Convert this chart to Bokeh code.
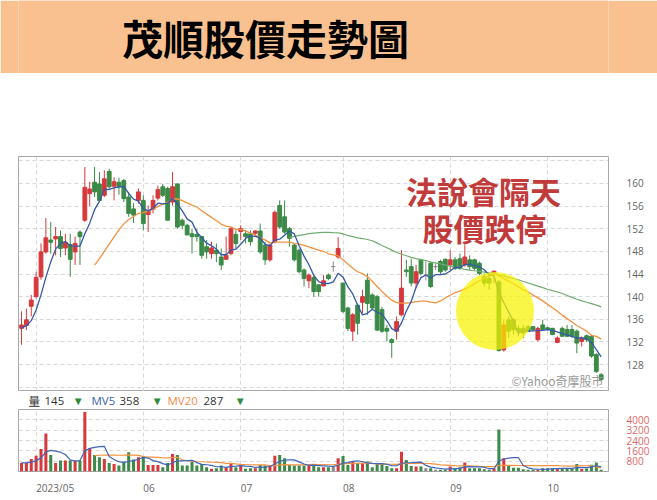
import pandas as pd
from bokeh.plotting import figure
from bokeh.layouts import column
from bokeh.models import Range1d, FixedTicker, Label, ColumnDataSource
from bokeh.embed import file_html
from bokeh.resources import INLINE

# ---------------- data ----------------
opens = [134.4, 134.9, 138.3, 140.0, 143.5, 147.9, 150.0, 150.2, 150.6, 148.6,
         149.2, 147.9, 151.4, 153.5, 158.2, 160.2, 159.9, 157.9, 162.1, 159.5,
         160.2, 160.5, 157.6, 155.5, 157.0, 157.0, 154.5, 155.4, 157.4, 159.4,
         159.1, 156.7, 159.9, 153.5, 152.6, 151.1, 151.0, 150.6, 148.8, 147.6,
         148.2, 147.0, 146.6, 147.6, 151.0, 151.5, 151.1, 151.1, 151.2, 151.6,
         149.1, 146.5, 149.7, 156.1, 154.1, 152.0, 149.1, 148.2, 144.7, 142.8,
         143.4, 142.1, 141.9, 143.8, 145.3, 147.0, 142.4, 138.0, 133.9, 138.5,
         139.0, 142.9, 140.3, 140.0, 137.7, 134.4, 132.4, 133.9, 136.8, 144.7,
         145.3, 142.4, 146.5, 143.8, 145.9, 145.3, 146.2, 146.6, 145.6, 146.5,
         146.7, 145.6, 146.5, 146.5, 145.9, 143.5, 143.2, 144.1, 142.6, 130.6,
         135.9, 135.9, 134.4, 134.4, 134.7, 134.7, 132.4, 135.0, 134.5, 134.4,
         131.9, 134.4, 134.2, 134.2, 133.9, 132.1, 133.1, 133.0, 129.8, 126.2]
highs = [137.4, 137.9, 140.3, 144.4, 149.4, 153.9, 153.2, 152.3, 151.7, 151.1,
         151.1, 150.6, 151.7, 162.9, 160.3, 162.9, 162.0, 162.3, 162.6, 161.1,
         161.0, 160.8, 158.5, 156.5, 159.1, 157.9, 156.1, 157.9, 159.6, 159.9,
         159.4, 162.0, 160.0, 153.8, 152.9, 152.0, 152.0, 150.6, 150.0, 149.7,
         149.4, 148.5, 150.6, 152.3, 151.7, 152.6, 151.7, 151.7, 151.7, 152.9,
         149.7, 149.4, 155.2, 157.0, 157.0, 152.3, 149.4, 148.5, 145.0, 144.1,
         143.8, 142.1, 143.8, 144.1, 146.2, 150.5, 142.4, 138.2, 137.1, 138.8,
         141.2, 144.1, 140.6, 140.3, 138.2, 135.0, 132.7, 136.5, 148.2, 146.5,
         146.7, 145.6, 146.7, 146.2, 146.2, 145.9, 146.5, 146.7, 148.2, 147.0,
         147.6, 149.1, 147.3, 146.7, 146.2, 144.1, 143.8, 144.6, 142.9, 135.9,
         136.5, 136.2, 135.0, 135.0, 135.0, 134.7, 134.7, 135.9, 134.7, 134.5,
         133.0, 134.7, 135.0, 135.0, 134.2, 133.0, 133.3, 133.3, 130.0, 126.5]
lows = [131.5, 134.1, 136.5, 139.7, 143.0, 147.6, 147.6, 147.3, 147.0, 147.3,
        143.5, 145.6, 145.6, 153.2, 156.0, 157.6, 156.7, 157.6, 159.1, 157.0,
        158.0, 156.7, 154.1, 153.0, 156.4, 151.7, 151.4, 154.7, 157.0, 157.6,
        153.5, 156.1, 152.0, 152.0, 150.9, 147.6, 149.7, 146.7, 146.7, 146.7,
        146.1, 144.7, 146.5, 147.3, 148.5, 150.0, 149.4, 149.0, 150.6, 147.6,
        145.6, 146.2, 149.4, 152.0, 151.1, 148.8, 146.2, 144.1, 141.8, 141.5,
        140.0, 140.0, 141.8, 142.9, 144.4, 146.7, 137.1, 133.9, 132.1, 133.3,
        137.1, 136.8, 137.7, 133.9, 133.6, 132.1, 129.2, 132.4, 136.5, 143.5,
        141.8, 141.5, 143.8, 142.9, 141.5, 144.7, 143.8, 144.4, 144.7, 144.7,
        144.7, 145.3, 144.7, 144.7, 143.8, 141.8, 141.2, 142.4, 130.3, 130.3,
        132.7, 133.3, 133.0, 132.7, 133.9, 133.9, 132.1, 133.9, 134.0, 133.2,
        131.8, 132.9, 132.9, 132.7, 130.0, 131.2, 132.0, 129.2, 126.5, 125.1]
closes = [135.0, 135.9, 139.4, 143.4, 147.9, 150.4, 149.6, 150.6, 148.5, 149.6,
          146.6, 149.4, 150.6, 159.3, 159.0, 158.5, 157.0, 160.8, 159.4, 160.3,
          159.4, 157.3, 154.7, 154.4, 158.5, 152.9, 155.2, 157.0, 158.9, 157.9,
          153.5, 159.4, 152.3, 152.6, 150.9, 150.6, 150.6, 147.3, 147.9, 148.6,
          147.6, 145.6, 147.3, 152.0, 149.4, 152.0, 150.6, 149.7, 151.6, 147.9,
          146.5, 149.1, 154.9, 152.3, 151.4, 150.3, 146.5, 144.4, 143.2, 143.8,
          140.9, 140.9, 142.8, 143.2, 145.3, 148.5, 137.4, 134.4, 136.8, 135.3,
          140.0, 138.8, 138.0, 134.1, 133.9, 133.9, 131.9, 135.6, 141.5, 144.4,
          142.4, 144.4, 144.1, 143.8, 141.8, 145.3, 144.4, 144.7, 146.5, 145.0,
          145.0, 147.0, 145.3, 145.0, 144.1, 142.4, 142.4, 144.5, 130.5, 135.0,
          133.9, 134.2, 133.9, 133.6, 133.9, 134.2, 134.4, 134.2, 134.2, 133.3,
          132.7, 133.0, 133.0, 133.0, 131.8, 132.7, 132.4, 129.5, 126.8, 125.4]
volumes = [666, 666, 973, 1229, 1741, 2944, 1280, 666, 845, 845,
           845, 845, 845, 4608, 1792, 1280, 1100, 973, 666, 590,
           460, 768, 1485, 920, 1100, 1178, 512, 512, 512, 333,
           666, 1357, 1280, 460, 460, 768, 460, 590, 333, 205,
           256, 460, 333, 666, 333, 512, 205, 256, 256, 512,
           460, 460, 1229, 1280, 1024, 512, 460, 460, 460, 460,
           590, 333, 333, 333, 384, 1024, 1203, 512, 768, 640,
           640, 768, 333, 640, 640, 435, 256, 256, 1536, 896,
           435, 384, 384, 256, 256, 128, 128, 128, 384, 256,
           333, 691, 256, 256, 256, 180, 128, 256, 3251, 1024,
           512, 300, 300, 180, 128, 128, 128, 250, 250, 250,
           250, 200, 250, 230, 590, 200, 230, 520, 691, 145]
# four sessions before the first visible candle (feed the moving averages)
pre_closes = [134.2, 134.8, 134.0, 134.5]
pre_volumes = [650, 700, 620, 680]

month_starts = [3, 25, 45, 66, 88, 108]
month_labels = ["2023/05", "06", "07", "08", "09", "10"]
price_ticks = [124, 128, 132, 136, 140, 144, 148, 152, 156, 160, 164]
vol_ticks = [800, 1600, 2400, 3200, 4000]
legend_parts = ["量", "145", "MV5", "358", "MV20", "287"]
title_text = "茂順股價走勢圖"
note_lines = ["法說會隔天", "股價跌停"]
watermark = "©Yahoo奇摩股市"
limit_down_day = 98

# ---------------- derived ----------------
n = len(closes)
idx = list(range(n))
ser_c = pd.Series(pre_closes + closes)
ser_v = pd.Series(pre_volumes + volumes)
k = len(pre_closes)
ma5 = ser_c.rolling(5).mean().iloc[k:].tolist()
ma20 = ser_c.rolling(20).mean().iloc[k:].tolist()
ma60 = ser_c.rolling(60).mean().iloc[k:].tolist()
vma5 = ser_v.rolling(5).mean().iloc[k:].tolist()
vma20 = ser_v.rolling(20).mean().iloc[k:].tolist()

RED = "#D7383C"
GREEN = "#3B8A47"
GRAY = "#8a8a8a"
colors = [RED if c > o else (GREEN if c < o else GRAY) for o, c in zip(opens, closes)]

src = ColumnDataSource(dict(
    x=idx, o=opens, h=highs, l=lows, c=closes,
    top=[max(a, b) for a, b in zip(opens, closes)],
    bot=[min(a, b) for a, b in zip(opens, closes)],
    v=volumes, col=colors, ma5=ma5, ma20=ma20, ma60=ma60,
    vma5=vma5, vma20=vma20))

W = 657
FRAME_L = 18
FRAME_R = 49
xr = Range1d(-0.62, 120.5)
frame_w = W - FRAME_L - FRAME_R


def px_to_x(px):  # page px -> index units
    return xr.start + (px - FRAME_L) / frame_w * (xr.end - xr.start)


FONT = "Open Sans"
CJK = "Noto Sans CJK TC"


def strip(height):
    f = figure(width=W, height=height, x_range=xr, y_range=Range1d(0, height),
               toolbar_location=None, output_backend="svg", x_axis_location=None,
               y_axis_location=None, min_border_left=FRAME_L, min_border_right=FRAME_R,
               min_border_top=0, min_border_bottom=0)
    f.grid.visible = False
    f.outline_line_color = None
    return f


# ---------------- banner ----------------
banner = figure(width=W, height=73, x_range=Range1d(0, W), y_range=Range1d(0, 73),
                toolbar_location=None, output_backend="svg", min_border=0,
                x_axis_location=None, y_axis_location=None)
banner.grid.visible = False
banner.outline_line_color = None
banner.background_fill_color = "#F9C18F"
banner.border_fill_color = "#F9C18F"
banner.add_layout(Label(x=275, y=37, text=title_text, text_align="center",
                        text_baseline="middle", text_font=CJK, text_font_size="41px",
                        text_font_style="bold", text_color="#000000"))

# ---------------- price panel ----------------
p = figure(width=W, height=318, x_range=xr, y_range=Range1d(123.25, 164.75),
           toolbar_location=None, output_backend="svg", x_axis_location=None,
           y_axis_location="right", min_border_left=FRAME_L, min_border_right=FRAME_R,
           min_border_top=83, min_border_bottom=0)
p.outline_line_color = "#a8a8a8"
p.yaxis.ticker = FixedTicker(ticks=price_ticks)
p.yaxis.major_label_overrides = {124: "", 164: ""}
p.yaxis.axis_line_color = None
p.yaxis.major_tick_line_color = None
p.yaxis.minor_tick_line_color = None
p.yaxis.major_label_standoff = 12
p.yaxis.major_label_text_font = FONT
p.yaxis.major_label_text_font_size = "10px"
p.yaxis.major_label_text_color = "#666666"
p.ygrid.grid_line_color = "#d8d8d8"
p.ygrid.grid_line_dash = "4 3"
p.xgrid.ticker = FixedTicker(ticks=month_starts)
p.xgrid.grid_line_color = "#d8d8d8"
p.xgrid.grid_line_dash = "4 3"

p.segment(x0="x", y0="h", x1="x", y1="l", source=src, line_color="col", line_width=1)
p.vbar(x="x", top="top", bottom="bot", width=0.78, source=src,
       fill_color="col", line_color="col", line_width=1)
p.line(x="x", y="ma60", source=src, line_color="#6FAE6F", line_width=1.2)
p.line(x="x", y="ma20", source=src, line_color="#F39240", line_width=1.3)
p.line(x="x", y="ma5", source=src, line_color="#3559A8", line_width=1.3)

# highlight circle around the limit-down session
p.scatter(x=[limit_down_day - 0.8], y=[(highs[limit_down_day - 1] + lows[limit_down_day]) / 2],
          size=78, marker="circle", fill_color="#F7F200", fill_alpha=0.72, line_color=None)

p.add_layout(Label(x=px_to_x(483), y=158.8, text=note_lines[0], text_align="center",
                   text_baseline="middle", text_font=CJK, text_font_size="31px",
                   text_font_style="bold", text_color="#C23B3B"))
p.add_layout(Label(x=px_to_x(484), y=152.3, text=note_lines[1], text_align="center",
                   text_baseline="middle", text_font=CJK, text_font_size="31px",
                   text_font_style="bold", text_color="#C23B3B"))
p.add_layout(Label(x=px_to_x(603), y=125.2, text=watermark, text_align="right",
                   text_baseline="middle", text_font=CJK, text_font_size="12px",
                   text_color="#9a9a9a"))

# ---------------- legend strip ----------------
leg = strip(18)
leg_specs = [(28, legend_parts[0], "#333333"), (44, legend_parts[1], "#333333"),
             (72, "▼", "#2E8B3E"), (91, legend_parts[2], "#4062B0"),
             (119, legend_parts[3], "#333333"), (151, "▼", "#2E8B3E"),
             (167, legend_parts[4], "#F08A4B"), (203, legend_parts[5], "#333333"),
             (234, "▼", "#2E8B3E")]
for xp, t, c in leg_specs:
    leg.add_layout(Label(x=px_to_x(xp), y=9, text=t, text_align="left",
                         text_baseline="middle", text_font=CJK if t == "量" else FONT,
                         text_font_size="11.5px", text_color=c))

# ---------------- volume panel ----------------
VTOP = 4800
q = figure(width=W, height=63, x_range=xr, y_range=Range1d(0, VTOP),
           toolbar_location=None, output_backend="svg", x_axis_location=None,
           y_axis_location="right", min_border_left=FRAME_L, min_border_right=FRAME_R,
           min_border_top=0, min_border_bottom=1)
q.outline_line_color = "#a8a8a8"
q.yaxis.ticker = FixedTicker(ticks=vol_ticks)
q.yaxis.axis_line_color = None
q.yaxis.major_tick_line_color = None
q.yaxis.minor_tick_line_color = None
q.yaxis.major_label_standoff = 12
q.yaxis.major_label_text_font = FONT
q.yaxis.major_label_text_font_size = "10px"
q.yaxis.major_label_text_color = "#E06666"
q.ygrid.grid_line_color = "#d8d8d8"
q.ygrid.grid_line_dash = "4 3"
q.xgrid.ticker = FixedTicker(ticks=month_starts)
q.xgrid.grid_line_color = "#d8d8d8"
q.xgrid.grid_line_dash = "4 3"

q.vbar(x="x", top="v", bottom=0, width=0.62, source=src, fill_color="col", line_color=None)
q.line(x="x", y="vma20", source=src, line_color="#F39240", line_width=1.2)
q.line(x="x", y="vma5", source=src, line_color="#3F66B8", line_width=1.2)

# ---------------- month labels strip ----------------
ax = strip(28)
for ms, lab in zip(month_starts, month_labels):
    ax.add_layout(Label(x=ms, y=13, text=lab, text_align="left", text_baseline="middle",
                        text_font=FONT, text_font_size="10px", text_color="#666666"))

layout = column(banner, p, leg, q, ax, spacing=0)
open("out.html", "w").write(file_html(layout, INLINE))
